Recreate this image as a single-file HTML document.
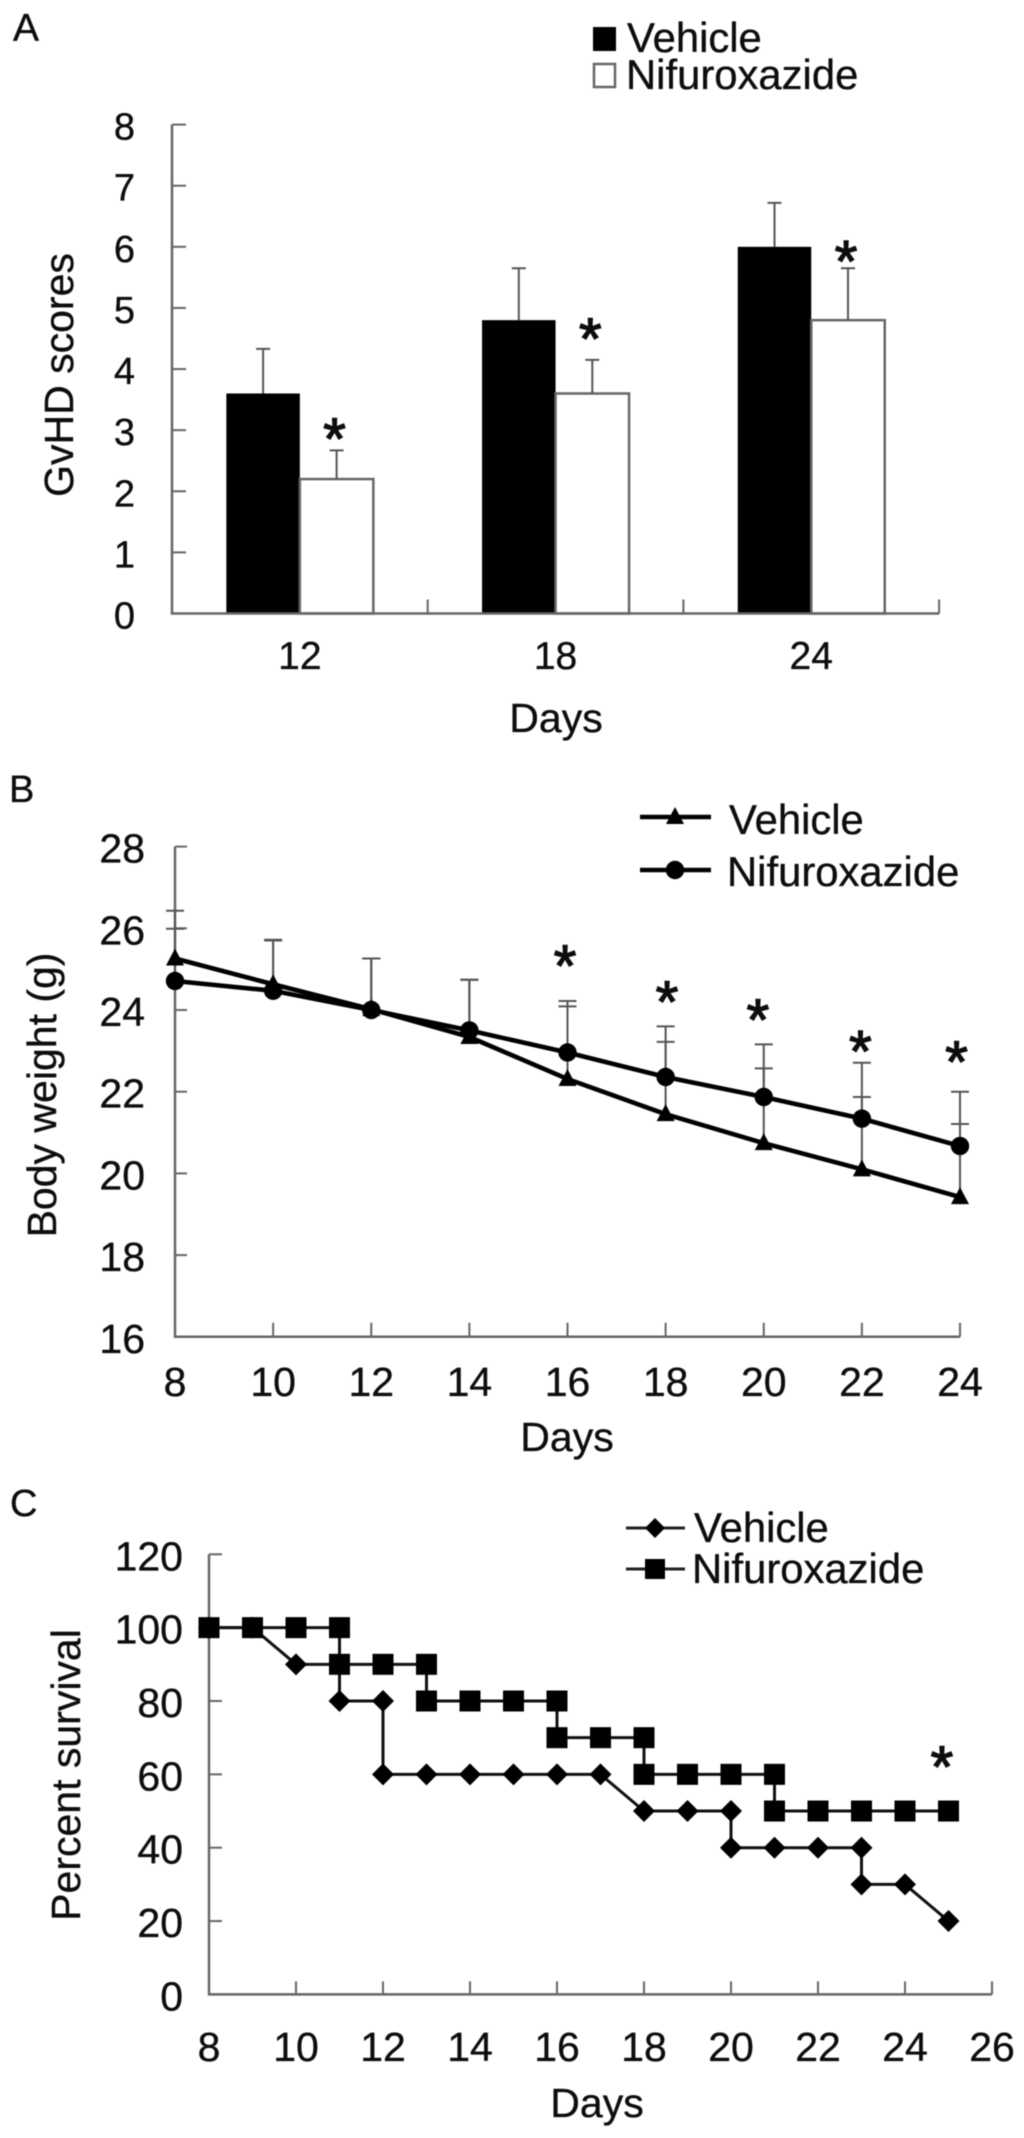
<!DOCTYPE html>
<html lang="en">
<head>
<meta charset="utf-8">
<title>GvHD scores, body weight and survival</title>
<style>
html,body{margin:0;padding:0;background:#fff;}
#figure{display:block;width:1024px;height:2138px;filter:blur(0.5px);}
text{font-family:"Liberation Sans",Arial,sans-serif;fill:#0d0d0d;stroke:#0d0d0d;stroke-width:0.35px;}
</style>
</head>
<body>
<svg id="figure" xmlns="http://www.w3.org/2000/svg" width="1024" height="2138" viewBox="0 0 1024 2138">
  <rect x="0" y="0" width="1024" height="2138" fill="#fff"/>

  <g id="panelA">
    <text x="13" y="41" font-size="39">A</text>
    <rect x="593" y="27" width="23" height="24" fill="#000"/>
    <text x="627" y="52" font-size="41.8">Vehicle</text>
    <rect x="594" y="64" width="21" height="23" fill="#fff" stroke="#666" stroke-width="2.5"/>
    <text x="626" y="89" font-size="41.8">Nifuroxazide</text>
    <text transform="translate(73,375) rotate(-90)" text-anchor="middle" font-size="41">GvHD scores</text>
    <text x="556" y="732" text-anchor="middle" font-size="41">Days</text>
  </g>

  <g id="panelB">
    <text x="9" y="802" font-size="38">B</text>
    <line x1="640" y1="817" x2="711" y2="817" stroke="#000" stroke-width="4.6"/>
    <polygon points="675,807 684,824 666,824" fill="#000"/>
    <text x="729" y="834" font-size="41.8">Vehicle</text>
    <line x1="640" y1="870" x2="711" y2="870" stroke="#000" stroke-width="4.6"/>
    <circle cx="675" cy="870" r="9.2" fill="#000"/>
    <text x="727" y="886" font-size="41.8">Nifuroxazide</text>
    <text transform="translate(56,1095) rotate(-90)" text-anchor="middle" font-size="41">Body weight (g)</text>
    <text x="567" y="1451" text-anchor="middle" font-size="41">Days</text>
  </g>

  <g id="panelC">
    <text x="10" y="1516" font-size="38">C</text>
    <line x1="626" y1="1528" x2="685" y2="1528" stroke="#222" stroke-width="3"/>
    <polygon points="655,1518 665,1528 655,1538 645,1528" fill="#000"/>
    <text x="694" y="1542" font-size="41.8">Vehicle</text>
    <line x1="626" y1="1569" x2="685" y2="1569" stroke="#222" stroke-width="3"/>
    <rect x="645" y="1559" width="20" height="20" fill="#000"/>
    <text x="692" y="1583" font-size="41.8">Nifuroxazide</text>
    <text transform="translate(80,1775) rotate(-90)" text-anchor="middle" font-size="41">Percent survival</text>
    <text x="597" y="2117" text-anchor="middle" font-size="41">Days</text>
  </g>
</svg>

<script>
// Panel A data
const scoreCategories = ['12', '18', '24'];
const scoreTicks = [0, 1, 2, 3, 4, 5, 6, 7, 8];
const vehicleScores = [3.6, 4.8, 6.0];
const nifuroxazideScores = [2.2, 3.6, 4.8];
const vehicleScoreErrors = [0.73, 0.85, 0.72];
const nifuroxazideScoreErrors = [0.47, 0.55, 0.85];
const scoreStars = [3.0, 4.64, 5.91];

// Panel B data
const weightDays = [8, 10, 12, 14, 16, 18, 20, 22, 24];
const weightTicks = [16, 18, 20, 22, 24, 26, 28];
const vehicleWeights = [25.26, 24.63, 24.02, 23.34, 22.31, 21.45, 20.74, 20.1, 19.42];
const nifuroxazideWeights = [24.71, 24.47, 24.0, 23.5, 22.96, 22.36, 21.87, 21.34, 20.67];
const vehicleWeightTops = [26.43, 25.7, 25.26, 24.74, 24.09, 23.22, 22.57, 21.87, 21.21];
const nifuroxazideWeightTops = [25.99, 25.72, 25.26, 24.74, 24.22, 23.6, 23.16, 22.71, 22.0];
const weightStarDays = [15.95, 18.03, 19.88, 21.97, 23.93];
const weightStarValues = [25.3, 24.42, 23.98, 23.2, 22.95];

// Panel C data
const survivalTicks = [0, 20, 40, 60, 80, 100, 120];
const survivalDayTicks = [8, 10, 12, 14, 16, 18, 20, 22, 24, 26];
const vehicleSurvivalDays = [8, 9, 10, 11, 11, 12, 12, 13, 14, 15, 16, 17, 18, 19, 20, 20, 21, 22, 23, 23, 24, 25];
const vehicleSurvival = [100, 100, 90, 90, 80, 80, 60, 60, 60, 60, 60, 60, 50, 50, 50, 40, 40, 40, 40, 30, 30, 20];
const nifuroxazideSurvivalDays = [8, 9, 10, 11, 11, 12, 13, 13, 14, 15, 16, 16, 17, 18, 18, 19, 20, 21, 21, 22, 23, 24, 25];
const nifuroxazideSurvival = [100, 100, 100, 100, 90, 90, 90, 80, 80, 80, 80, 70, 70, 70, 60, 60, 60, 60, 50, 50, 50, 50, 50];
const survivalStarDay = [24.85];
const survivalStarValue = [64.5];

const SVG_NS = 'http://www.w3.org/2000/svg';
const AXIS_COLOR = '#666';
const ERROR_COLOR = '#555';
const STAR_DROP = 29;
const STAR_STROKE = 'stroke-width:1.4px';

function mk(parent, tag, attrs, content) {
  const node = document.createElementNS(SVG_NS, tag);
  for (const key in attrs) node.setAttribute(key, attrs[key]);
  if (content !== undefined) node.textContent = content;
  parent.appendChild(node);
  return node;
}
function linear(d0, d1, r0, r1) {
  return function (v) { return r0 + (v - d0) * (r1 - r0) / (d1 - d0); };
}

const panelA = document.getElementById('panelA');
const panelB = document.getElementById('panelB');
const panelC = document.getElementById('panelC');

/* ---------- Panel A ---------- */
const aY = linear(0, 8, 613.5, 124.6);
const aLeft = 172;
const aBand = 255.7;
const aBarW = 73.5;
function aCenter(i) { return aLeft + aBand * (i + 0.5); }

scoreCategories.forEach(function (cat, i) {
  const c = aCenter(i);
  const bar1 = mk(panelA, 'rect', { x: c - aBarW, y: aY(vehicleScores[i]), width: aBarW, height: aY(0) - aY(vehicleScores[i]), fill: '#000' });
  
  
  const bar2 = mk(panelA, 'rect', { x: c, y: aY(nifuroxazideScores[i]), width: aBarW, height: aY(0) - aY(nifuroxazideScores[i]), fill: '#fff', stroke: AXIS_COLOR, 'stroke-width': 2.5 });
  
  

  const x1 = c - aBarW / 2;
  const top1 = aY(vehicleScores[i] + vehicleScoreErrors[i]);
  const e1 = mk(panelA, 'path', { d: 'M' + x1 + ' ' + aY(vehicleScores[i]) + 'V' + top1 + 'M' + (x1 - 7) + ' ' + top1 + 'H' + (x1 + 7), stroke: ERROR_COLOR, 'stroke-width': 2, fill: 'none' });
  
  
  const x2 = c + aBarW / 2;
  const top2 = aY(nifuroxazideScores[i] + nifuroxazideScoreErrors[i]);
  const e2 = mk(panelA, 'path', { d: 'M' + x2 + ' ' + aY(nifuroxazideScores[i]) + 'V' + top2 + 'M' + (x2 - 7) + ' ' + top2 + 'H' + (x2 + 7), stroke: ERROR_COLOR, 'stroke-width': 2, fill: 'none' });
  
  

  const star = mk(panelA, 'text', { x: x2 - 2, y: aY(scoreStars[i]) + STAR_DROP, 'text-anchor': 'middle', 'font-size': 58, style: STAR_STROKE }, '*');
  
  

  const label = mk(panelA, 'text', { x: c, y: 669, 'text-anchor': 'middle', 'font-size': 39 }, cat);
  
  

  const xt = aLeft + aBand * (i + 1);
  const tick = mk(panelA, 'line', { x1: xt, y1: aY(0), x2: xt, y2: aY(0) - 14, stroke: AXIS_COLOR, 'stroke-width': 2 });
  
  
});

const aAxis = mk(panelA, 'path', { d: 'M' + aLeft + ' ' + aY(8) + 'V' + aY(0) + 'H' + (aLeft + aBand * 3), stroke: AXIS_COLOR, 'stroke-width': 2.5, fill: 'none' });



scoreTicks.forEach(function (t) {
  const tick = mk(panelA, 'line', { x1: aLeft, y1: aY(t), x2: aLeft + 14, y2: aY(t), stroke: AXIS_COLOR, 'stroke-width': 2 });
  
  
  const label = mk(panelA, 'text', { x: 135, y: aY(t) + 15, 'text-anchor': 'end', 'font-size': 38 }, String(t));
  
  
});

/* ---------- Panel B ---------- */
const bX = linear(8, 24, 175, 960);
const bY = linear(16, 28, 1336.8, 846.6);

const bAxis = mk(panelB, 'path', { d: 'M' + bX(8) + ' ' + bY(28) + 'V' + bY(16) + 'H' + bX(24), stroke: AXIS_COLOR, 'stroke-width': 2.5, fill: 'none' });



weightTicks.forEach(function (t) {
  const tick = mk(panelB, 'line', { x1: bX(8), y1: bY(t), x2: bX(8) + 12, y2: bY(t), stroke: AXIS_COLOR, 'stroke-width': 2 });
  
  
  const label = mk(panelB, 'text', { x: 145, y: bY(t) + 16, 'text-anchor': 'end', 'font-size': 41 }, String(t));
  
  
});

weightDays.forEach(function (d) {
  const tick = mk(panelB, 'line', { x1: bX(d), y1: bY(16), x2: bX(d), y2: bY(16) - 14, stroke: AXIS_COLOR, 'stroke-width': 2 });
  
  
  const label = mk(panelB, 'text', { x: bX(d), y: 1396, 'text-anchor': 'middle', 'font-size': 41 }, String(d));
  
  
});

function drawErrors(parent, days, values, tops, name) {
  days.forEach(function (d, i) {
    const x = bX(d);
    const top = bY(tops[i]);
    const err = mk(parent, 'path', { d: 'M' + x + ' ' + bY(values[i]) + 'V' + top + 'M' + (x - 9) + ' ' + top + 'H' + (x + 9), stroke: ERROR_COLOR, 'stroke-width': 2, fill: 'none' });
    
    
  });
}
drawErrors(panelB, weightDays, vehicleWeights, vehicleWeightTops, 'error-bar-vehicle');
drawErrors(panelB, weightDays, nifuroxazideWeights, nifuroxazideWeightTops, 'error-bar-nifuroxazide');

const bVehicleLine = mk(panelB, 'polyline', { points: weightDays.map(function (d, i) { return bX(d) + ',' + bY(vehicleWeights[i]); }).join(' '), fill: 'none', stroke: '#000', 'stroke-width': 4.6 });


const bNifLine = mk(panelB, 'polyline', { points: weightDays.map(function (d, i) { return bX(d) + ',' + bY(nifuroxazideWeights[i]); }).join(' '), fill: 'none', stroke: '#000', 'stroke-width': 4.6 });



weightDays.forEach(function (d, i) {
  const x = bX(d);
  const y1 = bY(vehicleWeights[i]);
  const tri = mk(panelB, 'polygon', { points: x + ',' + (y1 - 10) + ' ' + (x + 9) + ',' + (y1 + 7) + ' ' + (x - 9) + ',' + (y1 + 7), fill: '#000' });
  
  
  const dot = mk(panelB, 'circle', { cx: x, cy: bY(nifuroxazideWeights[i]), r: 9.2, fill: '#000' });
  
  
});

weightStarDays.forEach(function (d, i) {
  const star = mk(panelB, 'text', { x: bX(d), y: bY(weightStarValues[i]) + STAR_DROP, 'text-anchor': 'middle', 'font-size': 58, style: STAR_STROKE }, '*');
  
  
});

/* ---------- Panel C ---------- */
const cX = linear(8, 26, 209, 992);
const cY = linear(0, 120, 1994.4, 1554.3);

const cAxis = mk(panelC, 'path', { d: 'M' + cX(8) + ' ' + cY(120) + 'V' + cY(0) + 'H' + cX(26), stroke: AXIS_COLOR, 'stroke-width': 2.5, fill: 'none' });



survivalTicks.forEach(function (t) {
  const tick = mk(panelC, 'line', { x1: cX(8), y1: cY(t), x2: cX(8) + 13, y2: cY(t), stroke: AXIS_COLOR, 'stroke-width': 2 });
  
  
  const label = mk(panelC, 'text', { x: 183, y: cY(t) + 16, 'text-anchor': 'end', 'font-size': 41 }, String(t));
  
  
});

survivalDayTicks.forEach(function (d) {
  const tick = mk(panelC, 'line', { x1: cX(d), y1: cY(0), x2: cX(d), y2: cY(0) - 13, stroke: AXIS_COLOR, 'stroke-width': 2 });
  
  
  const label = mk(panelC, 'text', { x: cX(d), y: 2061, 'text-anchor': 'middle', 'font-size': 41 }, String(d));
  
  
});

const cVehicleLine = mk(panelC, 'polyline', { points: vehicleSurvivalDays.map(function (d, i) { return cX(d) + ',' + cY(vehicleSurvival[i]); }).join(' '), fill: 'none', stroke: '#111', 'stroke-width': 3 });


const cNifLine = mk(panelC, 'polyline', { points: nifuroxazideSurvivalDays.map(function (d, i) { return cX(d) + ',' + cY(nifuroxazideSurvival[i]); }).join(' '), fill: 'none', stroke: '#111', 'stroke-width': 3 });



vehicleSurvivalDays.forEach(function (d, i) {
  const x = cX(d);
  const y = cY(vehicleSurvival[i]);
  const diamond = mk(panelC, 'polygon', { points: x + ',' + (y - 11) + ' ' + (x + 11) + ',' + y + ' ' + x + ',' + (y + 11) + ' ' + (x - 11) + ',' + y, fill: '#000' });
  
  
});
nifuroxazideSurvivalDays.forEach(function (d, i) {
  const square = mk(panelC, 'rect', { x: cX(d) - 10.5, y: cY(nifuroxazideSurvival[i]) - 10.5, width: 21, height: 21, fill: '#000' });
  
  
});

survivalStarDay.forEach(function (d, i) {
  const star = mk(panelC, 'text', { x: cX(d), y: cY(survivalStarValue[i]) + STAR_DROP, 'text-anchor': 'middle', 'font-size': 58, style: STAR_STROKE }, '*');
  
  
});
</script>
</body>
</html>
